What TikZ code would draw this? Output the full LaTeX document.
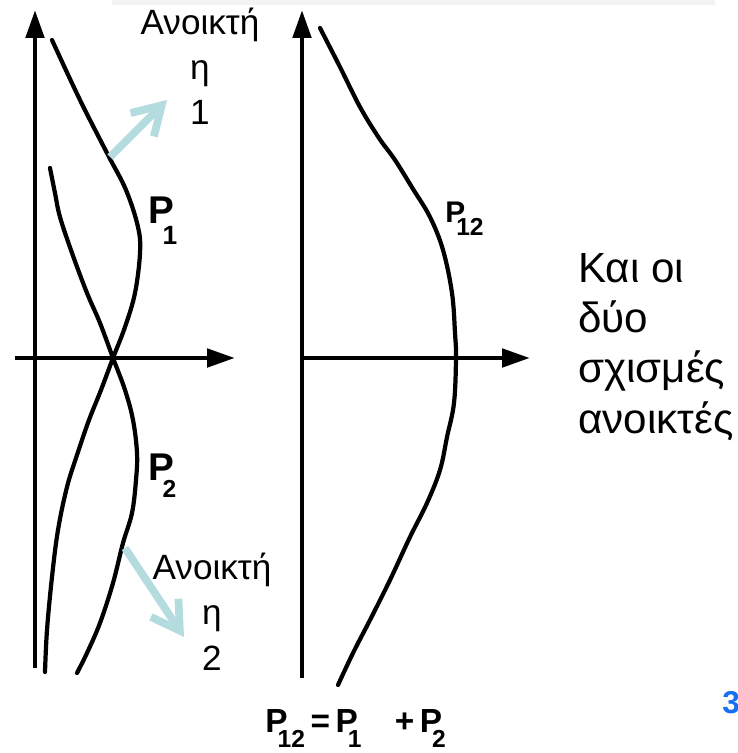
\documentclass[tikz,border=0pt]{standalone}
\usepackage{fontspec}
\setmainfont{Liberation Sans}
\usetikzlibrary{arrows.meta}
\definecolor{hintblue}{RGB}{180,220,223}
\definecolor{pagenum}{RGB}{22,110,240}
\definecolor{stripgray}{RGB}{243,243,243}
\newcommand{\Psub}[1]{P\kern-0.3em\raisebox{-0.45em}{\fontsize{14}{14}\selectfont #1}}

\begin{document}
\begin{tikzpicture}[x=0.02cm,y=-0.02cm,
    axis/.style={line width=2.8pt,-{Triangle[length=5.6mm,width=3.6mm]}},
    curve/.style={line width=2.4pt,line cap=round},
    hint/.style={hintblue,line width=4.4pt,-{Straight Barb[length=5.5mm,width=6.6mm]}},
    note/.style={align=center,font=\fontsize{20}{25.8}\selectfont,inner sep=0pt},
    plab/.style={font=\bfseries\fontsize{22}{22}\selectfont,inner sep=0pt,anchor=base west}]
  \useasboundingbox (0,0) rectangle (737,753);
  \fill[stripgray] (112,0) rectangle (715,5);
  % axes
  \coordinate (O1) at (35,358);
  \coordinate (O2) at (302,358);
  \draw[axis] (35,668) -- (35,10);
  \draw[axis] (15,358) -- (235,358);
  \draw[axis] (302,678) -- (302,10);
  \draw[axis] (300,358) -- (530,358);
  % single slits
  \draw[curve] plot[smooth,tension=0.6] coordinates {(52,40) (80,100) (108,155) (126,190) (138,227) (140,253) (135,293) (125,327) (113,358) (101,390) (89,420) (77,455) (67,487) (58,530) (52,577) (47,630) (45,672)};
  \draw[curve] plot[smooth,tension=0.6] coordinates {(50,168) (55,193) (60,217) (72,253) (87,293) (100,323) (113,358) (125,390) (133,420) (137,453) (136,480) (132,513) (123,543) (113,583) (100,623) (87,653) (77,673)};
  % both slits
  \draw[curve] plot[smooth,tension=0.6] coordinates {(320,28) (340,67) (360,107) (379,138) (395,160) (413,189) (430,217) (443,250) (452,293) (455,333) (456,358) (454,403) (447,437) (440,470) (427,503) (410,537) (390,580) (370,620) (353,653) (338,685)};
  \node[plab] (p1) at (148,223) {P\kern-0.3em\raisebox{-0.55em}{\fontsize{15}{15}\selectfont 1}};
  \node[plab] (p2) at (148,480) {\Psub{2}};
  \node[plab,font=\bfseries\fontsize{17}{17}\selectfont] (p12) at (445,222) {\Psub{12}};
  \node[plab,font=\bfseries\fontsize{19}{19}\selectfont] (sum) at (265,732) {\Psub{12}\,=\,\Psub{1}\quad+\,\Psub{2}};
  % open slit labels
  \node[note,anchor=base] (open1) at (200,125) {Ανοικτή\\η\\1};
  \node[note,anchor=base] (open2) at (212,670) {Ανοικτή\\η\\2};
  \coordinate (h1s) at (110,157);
  \coordinate (h1e) at (167,100);
  \coordinate (h2s) at (125,548);
  \coordinate (h2e) at (184,637);
  \draw[hint] (h1s) -- (h1e);
  \draw[hint] (h2s) -- (h2e);
  \node[note,align=left,anchor=base west,font=\fontsize{24}{28.5}\selectfont] (both) at (578,433) {Και οι\\δύο\\σχισμές\\ανοικτές};
  \node[inner sep=0pt,anchor=base west,text=pagenum,font=\bfseries\fontsize{18}{18}\selectfont] (page) at (722,713) {3};
\end{tikzpicture}
\end{document}
